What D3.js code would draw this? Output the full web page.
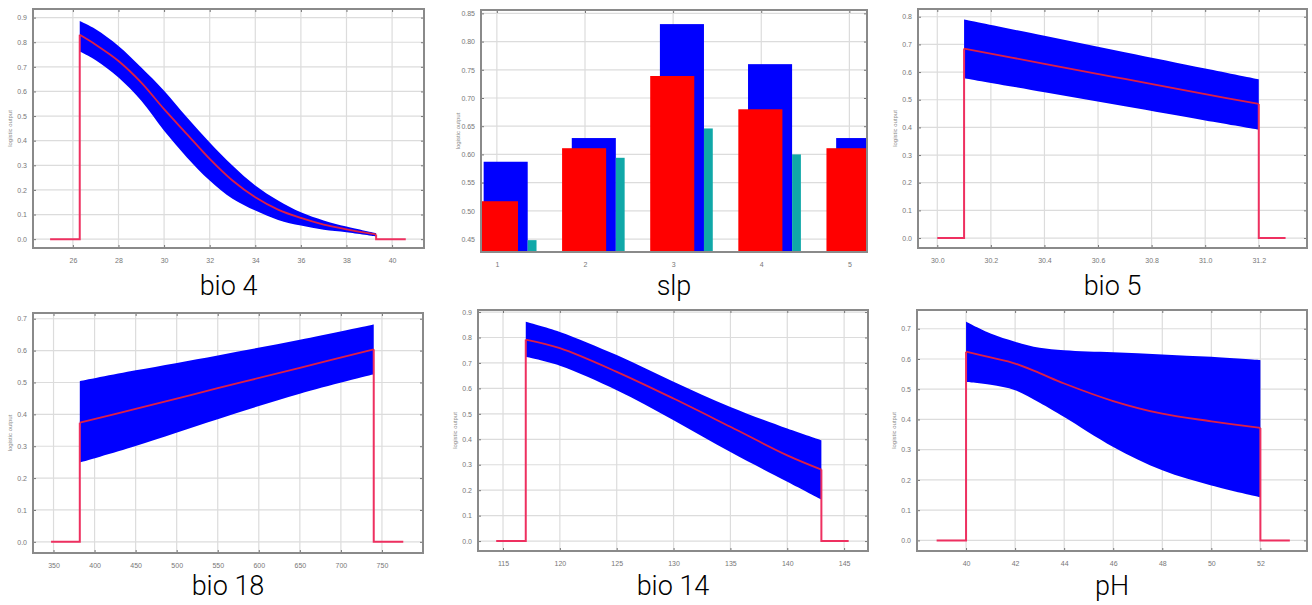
<!DOCTYPE html>
<html>
<head>
<meta charset="utf-8">
<script src="https://cdn.jsdelivr.net/npm/d3@7"></script>
<style>
  body { margin:0; background:#fff; }
  .tick text { font-family:"Liberation Sans", Arial, sans-serif; }
</style>
</head>
<body>
<script>
// ---- data ----
// bio 4
var bio4X     = [26.3, 27, 28, 29, 30, 31, 32, 33, 34, 35, 36, 37, 38, 39.3];
var bio4Mean  = [0.83, 0.79, 0.724, 0.636, 0.528, 0.427, 0.326, 0.238, 0.17, 0.12, 0.086, 0.059, 0.04, 0.019];
var bio4Upper = [0.886, 0.853, 0.785, 0.697, 0.603, 0.495, 0.393, 0.299, 0.218, 0.157, 0.109, 0.076, 0.051, 0.024];
var bio4Lower = [0.762, 0.727, 0.657, 0.562, 0.44, 0.332, 0.238, 0.164, 0.116, 0.078, 0.055, 0.038, 0.028, 0.011];
var bio4Flat  = [25.0, 40.6];

// slp (categorical)
var slpCats  = [1, 2, 3, 4, 5];
var slpMean  = [0.517, 0.611, 0.739, 0.680, 0.611];
var slpUpper = [0.587, 0.629, 0.831, 0.760, 0.629];
var slpLower = [0.448, 0.594, 0.646, 0.600, 0.594];

// bio 5
var bio5X     = [30.1, 30.4, 30.7, 31.0, 31.2];
var bio5Mean  = [0.685, 0.630, 0.575, 0.520, 0.485];
var bio5Upper = [0.790, 0.731, 0.672, 0.613, 0.574];
var bio5Lower = [0.578, 0.527, 0.476, 0.425, 0.392];
var bio5Flat  = [30.0, 31.3];

// bio 18
var bio18X     = [382, 450, 550, 650, 740];
var bio18Mean  = [0.374, 0.417, 0.482, 0.546, 0.604];
var bio18Upper = [0.504, 0.538, 0.585, 0.634, 0.682];
var bio18Lower = [0.249, 0.301, 0.385, 0.465, 0.526];
var bio18Flat  = [347, 776];

// bio 14
var bio14X     = [117, 120, 125, 130, 135, 140, 143];
var bio14Mean  = [0.792, 0.758, 0.665, 0.560, 0.449, 0.337, 0.281];
var bio14Upper = [0.862, 0.822, 0.731, 0.626, 0.527, 0.442, 0.396];
var bio14Lower = [0.724, 0.689, 0.593, 0.475, 0.350, 0.233, 0.163];
var bio14Flat  = [114.4, 145.4];

// pH
var phX     = [40, 41, 42, 43, 44, 46, 48, 50, 52];
var phMean  = [0.624, 0.605, 0.585, 0.553, 0.519, 0.461, 0.419, 0.394, 0.372];
var phUpper = [0.723, 0.684, 0.657, 0.637, 0.629, 0.622, 0.615, 0.607, 0.596];
var phLower = [0.524, 0.515, 0.497, 0.455, 0.408, 0.309, 0.232, 0.182, 0.143];
var phFlat  = [38.8, 53.2];

// tick labels
var bio4Ticks  = [26, 28, 30, 32, 34, 36, 38, 40];
var bio5Ticks  = [30.0, 30.2, 30.4, 30.6, 30.8, 31.0, 31.2];
var bio18Ticks = [350, 400, 450, 500, 550, 600, 650, 700, 750];
var bio14Ticks = [115, 120, 125, 130, 135, 140, 145];
var phTicks    = [40, 42, 44, 46, 48, 50, 52];
var slpYTicks  = [0.45, 0.50, 0.55, 0.60, 0.65, 0.70, 0.75, 0.80, 0.85];

var w = 1312, h = 605;
var svg = d3.select("body").append("svg")
  .attr("width", w).attr("height", h);

var defs = svg.append("defs");
var clipN = 0;

function frame(box, xdom, ydom, xticks, yticks, xfmt, yfmt, title) {
  var g = svg.append("g");
  var x = d3.scaleLinear().domain(xdom).range([box.l, box.r]);
  var y = d3.scaleLinear().domain(ydom).range([box.b, box.t]);

  // grid
  g.selectAll(".gx").data(xticks).enter().append("line")
    .attr("x1", function(d){ return x(d); }).attr("x2", function(d){ return x(d); })
    .attr("y1", box.t).attr("y2", box.b)
    .attr("stroke", "#dcdcdc").attr("stroke-width", 1.2);
  g.selectAll(".gy").data(yticks).enter().append("line")
    .attr("y1", function(d){ return y(d); }).attr("y2", function(d){ return y(d); })
    .attr("x1", box.l).attr("x2", box.r)
    .attr("stroke", "#dcdcdc").attr("stroke-width", 1.2);

  // axes, ticks pointing inward
  var ax = d3.axisBottom(x).tickValues(xticks).tickFormat(xfmt).tickSize(-3).tickPadding(10);
  var ay = d3.axisLeft(y).tickValues(yticks).tickFormat(yfmt).tickSize(-3).tickPadding(6);
  g.append("g").attr("transform", "translate(0," + box.b + ")").call(ax);
  g.append("g").attr("transform", "translate(" + box.l + ",0)").call(ay);
  g.append("g").attr("transform", "translate(0," + box.t + ")")
    .call(d3.axisTop(x).tickValues(xticks).tickFormat("").tickSize(-3));
  g.append("g").attr("transform", "translate(" + box.r + ",0)")
    .call(d3.axisRight(y).tickValues(yticks).tickFormat("").tickSize(-3));
  g.selectAll(".domain").remove();
  g.selectAll(".tick line").attr("stroke", "#777");
  g.selectAll(".tick text").attr("fill", "#777").style("font-size", "7px");

  // y label
  g.append("text")
    .attr("transform", "translate(" + (box.l - 21) + "," + ((box.t + box.b) / 2) + ") rotate(-90)")
    .attr("text-anchor", "middle")
    .style("font-family", "Liberation Sans, Arial, sans-serif")
    .style("font-size", "6px").attr("fill", "#888")
    .text("logistic output");

  // title, one baseline per row
  svg.append("text")
    .attr("x", (box.l + box.r) / 2).attr("y", box.t < 100 ? 295 : 595)
    .attr("text-anchor", "middle")
    .style("font-family", "Roboto, 'Liberation Sans', sans-serif")
    .style("font-weight", "300")
    .style("font-size", "27px").attr("fill", "#000")
    .text(title);

  clipN++;
  defs.append("clipPath").attr("id", "c" + clipN).append("rect")
    .attr("x", box.l).attr("y", box.t).attr("width", box.r - box.l).attr("height", box.b - box.t);
  var plot = svg.append("g").attr("clip-path", "url(#c" + clipN + ")");

  return { x: x, y: y, g: g, plot: plot, box: box };
}

function border(f) {
  var b = f.box;
  svg.append("rect").attr("x", b.l).attr("y", b.t)
    .attr("width", b.r - b.l).attr("height", b.b - b.t)
    .attr("fill", "none").attr("stroke", "#8a8a8a").attr("stroke-width", 2);
}

function responsePanel(box, xdom, ydom, xticks, yticks, xfmt, xs, mean, upper, lower, flat, title) {
  var f = frame(box, xdom, ydom, xticks, yticks, xfmt, d3.format(".1f"), title);
  var x = f.x, y = f.y;
  var pts = xs.map(function(d, i){ return { x: d, m: mean[i], u: upper[i], l: lower[i] }; });

  var area = d3.area()
    .x(function(d){ return x(d.x); })
    .y0(function(d){ return y(d.l); })
    .y1(function(d){ return y(d.u); })
    .curve(d3.curveCatmullRom.alpha(0.5));
  f.plot.append("path").datum(pts).attr("d", area).attr("fill", "#0000ff");

  // red mean line with zero segments outside the range
  var meanLine = d3.line().x(function(d){ return x(d.x); }).y(function(d){ return y(d.m); })
    .curve(d3.curveCatmullRom.alpha(0.5));
  var flatLine = d3.line().x(function(d){ return x(d[0]); }).y(function(d){ return y(d[1]); });
  var first = xs[0], last = xs[xs.length - 1];
  f.plot.append("path")
    .attr("d", flatLine([[flat[0], 0], [first, 0], [first, mean[0]]]))
    .attr("fill", "none").attr("stroke", "#ee3060").attr("stroke-width", 2);
  f.plot.append("path")
    .attr("d", flatLine([[last, mean[mean.length - 1]], [last, 0], [flat[1], 0]]))
    .attr("fill", "none").attr("stroke", "#ee3060").attr("stroke-width", 2);
  f.plot.append("path").datum(pts).attr("d", meanLine)
    .attr("fill", "none").attr("stroke", "#dd1f45").attr("stroke-width", 1.8);

  border(f);
}

// ---- bar panel (slp) ----
function slpPanel(box) {
  var f = frame(box, [0.82, 5.2], [0.427, 0.856], slpCats, slpYTicks,
    d3.format("d"), d3.format(".2f"), "slp");
  var x = f.x, y = f.y;
  var base = y.domain()[0];
  var rows = slpCats.map(function(c, i){ return { c: c, m: slpMean[i], u: slpUpper[i], l: slpLower[i] }; });

  f.plot.selectAll(".bu").data(rows).enter().append("rect")
    .attr("x", function(d){ return x(d.c - 0.15); })
    .attr("width", function(d){ return x(d.c + 0.35) - x(d.c - 0.15); })
    .attr("y", function(d){ return y(d.u); })
    .attr("height", function(d){ return y(base) - y(d.u); })
    .attr("fill", "#0000ff");
  f.plot.selectAll(".bm").data(rows).enter().append("rect")
    .attr("x", function(d){ return x(d.c - 0.26); })
    .attr("width", function(d){ return x(d.c + 0.24) - x(d.c - 0.26); })
    .attr("y", function(d){ return y(d.m); })
    .attr("height", function(d){ return y(base) - y(d.m); })
    .attr("fill", "#ff0000");
  f.plot.selectAll(".bl").data(rows).enter().append("rect")
    .attr("x", function(d){ return x(d.c + 0.35); })
    .attr("width", function(d){ return x(d.c + 0.45) - x(d.c + 0.35); })
    .attr("y", function(d){ return y(d.l); })
    .attr("height", function(d){ return y(base) - y(d.l); })
    .attr("fill", "#10a8a8");
  border(f);
}

var yt9 = [0, 0.1, 0.2, 0.3, 0.4, 0.5, 0.6, 0.7, 0.8, 0.9];
responsePanel({ l: 33, r: 424, t: 9, b: 248 }, [24.25, 41.4], [-0.036, 0.935],
  bio4Ticks, yt9, d3.format("d"), bio4X, bio4Mean, bio4Upper, bio4Lower, bio4Flat, "bio 4");
slpPanel({ l: 481, r: 867, t: 10, b: 252 });
responsePanel({ l: 918, r: 1307, t: 9, b: 248 }, [29.928, 31.38], [-0.036, 0.828],
  bio5Ticks, yt9.slice(0, 9), d3.format(".1f"), bio5X, bio5Mean, bio5Upper, bio5Lower, bio5Flat, "bio 5");
responsePanel({ l: 33, r: 423, t: 313, b: 553 }, [325, 800], [-0.035, 0.718],
  bio18Ticks, yt9.slice(0, 8), d3.format("d"), bio18X, bio18Mean, bio18Upper, bio18Lower, bio18Flat, "bio 18");
responsePanel({ l: 478, r: 868, t: 310, b: 551 }, [112.8, 147.1], [-0.039, 0.908],
  bio14Ticks, yt9, d3.format("d"), bio14X, bio14Mean, bio14Upper, bio14Lower, bio14Flat, "bio 14");
responsePanel({ l: 917, r: 1307, t: 310, b: 551 }, [38.0, 53.9], [-0.035, 0.762],
  phTicks, yt9.slice(0, 8), d3.format("d"), phX, phMean, phUpper, phLower, phFlat, "pH");
</script>
</body>
</html>
